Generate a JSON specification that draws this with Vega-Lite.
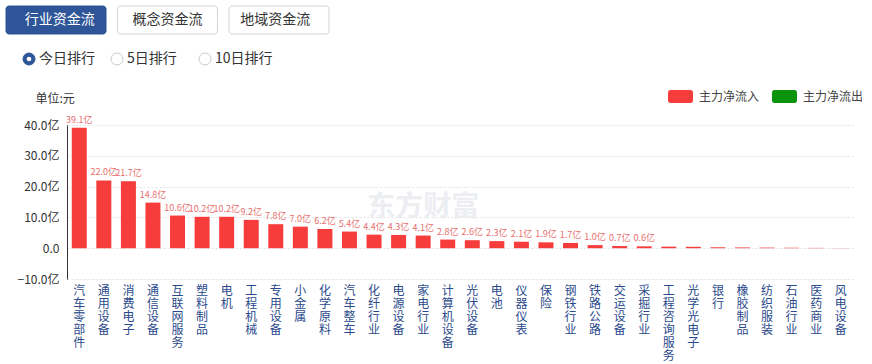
{
  "$schema": "https://vega.github.io/schema/vega-lite/v6.json",
  "background": "white",
  "padding": 5,
  "spacing": 11,
  "config": {"font": "Noto Sans CJK SC", "view": {"stroke": null}},
  "resolve": {"scale": {"color": "independent"}, "legend": {"color": "independent"}},
  "vconcat": [
    {
      "width": 323,
      "height": 67,
      "data": {"values": [
        {"row": "tab", "item": "行业资金流", "on": true},
        {"row": "tab", "item": "概念资金流", "on": false},
        {"row": "tab", "item": "地域资金流", "on": false},
        {"row": "radio", "item": "今日排行", "on": true},
        {"row": "radio", "item": "5日排行", "on": false},
        {"row": "radio", "item": "10日排行", "on": false}
      ]},
      "resolve": {"scale": {"x": "independent"}},
      "encoding": {
        "y": {"field": "row", "type": "nominal", "scale": {"domain": ["tab", "radio"], "paddingInner": 0.282, "paddingOuter": 0}, "axis": null}
      },
      "layer": [
        {
          "transform": [{"filter": "datum.row === 'tab'"}],
          "mark": {"type": "rect", "cornerRadius": 3, "strokeWidth": 1, "xOffset": -61},
          "encoding": {
            "x": {"field": "item", "type": "nominal", "sort": null, "scale": {"paddingInner": 0.103, "paddingOuter": 0}, "axis": null},
            "fill": {"condition": {"test": "datum.on", "value": "#2d5597"}, "value": "#ffffff"},
            "stroke": {"condition": {"test": "datum.on", "value": "#2d5597"}, "value": "#cfd4dc"}
          }
        },
        {
          "transform": [{"filter": "datum.row === 'tab'"}],
          "mark": {"type": "text", "fontSize": 14, "xOffset": -61},
          "encoding": {
            "x": {"field": "item", "type": "nominal", "sort": null, "scale": {"paddingInner": 0.103, "paddingOuter": 0}, "axis": null},
            "text": {"field": "item"},
            "color": {"condition": {"test": "datum.on", "value": "#ffffff"}, "value": "#333333"}
          }
        },
        {
          "transform": [{"filter": "datum.row === 'radio'"}],
          "mark": {"type": "point", "shape": "circle", "filled": true, "size": 144, "strokeWidth": 1, "xOffset": -38},
          "encoding": {
            "x": {"field": "item", "type": "nominal", "sort": null, "scale": {"type": "point", "padding": 0.835, "align": 0}, "axis": null},
            "fill": {"condition": {"test": "datum.on", "value": "#2d5597"}, "value": "#ffffff"},
            "stroke": {"condition": {"test": "datum.on", "value": "#2d5597"}, "value": "#cccccc"},
            "opacity": {"value": 1}
          }
        },
        {
          "transform": [{"filter": "datum.row === 'radio' && datum.on"}],
          "mark": {"type": "point", "shape": "circle", "filled": true, "size": 22, "xOffset": -38, "color": "#ffffff", "opacity": 1},
          "encoding": {
            "x": {"field": "item", "type": "nominal", "sort": null, "scale": {"type": "point", "padding": 0.835, "align": 0, "domain": ["今日排行", "5日排行", "10日排行"]}, "axis": null}
          }
        },
        {
          "transform": [{"filter": "datum.row === 'radio'"}],
          "mark": {"type": "text", "fontSize": 14, "align": "left", "xOffset": -28, "color": "#333333"},
          "encoding": {
            "x": {"field": "item", "type": "nominal", "sort": null, "scale": {"type": "point", "padding": 0.835, "align": 0}, "axis": null},
            "text": {"field": "item"}
          }
        }
      ]
    },
    {
      "width": 786,
      "height": 154,
      "data": {"values": [
        {"name": "汽车零部件", "v": 39.1, "type": "主力净流入", "label": "39.1亿"},
        {"name": "通用设备", "v": 22.0, "type": "主力净流入", "label": "22.0亿"},
        {"name": "消费电子", "v": 21.7, "type": "主力净流入", "label": "21.7亿"},
        {"name": "通信设备", "v": 14.8, "type": "主力净流入", "label": "14.8亿"},
        {"name": "互联网服务", "v": 10.6, "type": "主力净流入", "label": "10.6亿"},
        {"name": "塑料制品", "v": 10.2, "type": "主力净流入", "label": "10.2亿"},
        {"name": "电机", "v": 10.2, "type": "主力净流入", "label": "10.2亿"},
        {"name": "工程机械", "v": 9.2, "type": "主力净流入", "label": "9.2亿"},
        {"name": "专用设备", "v": 7.8, "type": "主力净流入", "label": "7.8亿"},
        {"name": "小金属", "v": 7.0, "type": "主力净流入", "label": "7.0亿"},
        {"name": "化学原料", "v": 6.2, "type": "主力净流入", "label": "6.2亿"},
        {"name": "汽车整车", "v": 5.4, "type": "主力净流入", "label": "5.4亿"},
        {"name": "化纤行业", "v": 4.4, "type": "主力净流入", "label": "4.4亿"},
        {"name": "电源设备", "v": 4.3, "type": "主力净流入", "label": "4.3亿"},
        {"name": "家电行业", "v": 4.1, "type": "主力净流入", "label": "4.1亿"},
        {"name": "计算机设备", "v": 2.8, "type": "主力净流入", "label": "2.8亿"},
        {"name": "光伏设备", "v": 2.6, "type": "主力净流入", "label": "2.6亿"},
        {"name": "电池", "v": 2.3, "type": "主力净流入", "label": "2.3亿"},
        {"name": "仪器仪表", "v": 2.1, "type": "主力净流入", "label": "2.1亿"},
        {"name": "保险", "v": 1.9, "type": "主力净流入", "label": "1.9亿"},
        {"name": "钢铁行业", "v": 1.7, "type": "主力净流入", "label": "1.7亿"},
        {"name": "铁路公路", "v": 1.0, "type": "主力净流入", "label": "1.0亿"},
        {"name": "交运设备", "v": 0.7, "type": "主力净流入", "label": "0.7亿"},
        {"name": "采掘行业", "v": 0.6, "type": "主力净流入", "label": "0.6亿"},
        {"name": "工程咨询服务", "v": 0.5, "type": "主力净流入"},
        {"name": "光学光电子", "v": 0.45, "type": "主力净流入"},
        {"name": "银行", "v": 0.3, "type": "主力净流入"},
        {"name": "橡胶制品", "v": 0.25, "type": "主力净流入"},
        {"name": "纺织服装", "v": 0.2, "type": "主力净流入"},
        {"name": "石油行业", "v": 0.15, "type": "主力净流入"},
        {"name": "医药商业", "v": 0.1, "type": "主力净流入"},
        {"name": "风电设备", "v": 0.05, "type": "主力净流入"}
      ]},
      "encoding": {
        "x": {
          "field": "name", "type": "nominal", "sort": null,
          "scale": {"domain": ["汽车零部件", "通用设备", "消费电子", "通信设备", "互联网服务", "塑料制品", "电机", "工程机械", "专用设备", "小金属", "化学原料", "汽车整车", "化纤行业", "电源设备", "家电行业", "计算机设备", "光伏设备", "电池", "仪器仪表", "保险", "钢铁行业", "铁路公路", "交运设备", "采掘行业", "工程咨询服务", "光学光电子", "银行", "橡胶制品", "纺织服装", "石油行业", "医药商业", "风电设备"], "paddingInner": 0.39, "paddingOuter": 0.195},
          "axis": {"title": null, "domain": false, "ticks": false, "labelAngle": 0, "labelExpr": "split(datum.label, '')", "labelLineHeight": 13, "labelFontSize": 12, "labelColor": "#2b4a8b", "labelBaseline": "top", "labelPadding": 6}
        },
        "y": {
          "field": "v", "type": "quantitative",
          "scale": {"domain": [-10, 40], "nice": false, "zero": false},
          "axis": {"values": [-10, 0, 10, 20, 30, 40], "labelExpr": "datum.value == 0 ? '0.0' : format(datum.value, '.1f') + '亿'", "labelOverlap": false, "minExtent": 61, "labelFontSize": 12, "labelColor": "#333333", "labelPadding": 8, "ticks": false, "domain": true, "domainColor": "#333333", "gridDash": [2, 2], "gridColor": "#e3e3e3", "title": "单位:元", "titleAngle": 0, "titleX": -32, "titleY": -27, "titleAlign": "left", "titleBaseline": "middle", "titleFontSize": 12, "titleFontWeight": "normal", "titleColor": "#333333"}
        }
      },
      "layer": [
        {
          "data": {"values": [{"wm": "东方财富", "cx": "家电行业", "cy": 13}]},
          "mark": {"type": "text", "fontSize": 28, "fontWeight": "bold", "baseline": "middle", "align": "center", "fill": "#eceef2", "color": "#eceef2", "opacity": 1},
          "encoding": {"x": {"field": "cx", "type": "nominal"}, "y": {"field": "cy", "type": "quantitative"}, "text": {"field": "wm", "type": "nominal"}, "color": {"value": "#eceef2"}}
        },
        {
          "mark": {"type": "bar"},
          "encoding": {
            "color": {
              "field": "type", "type": "nominal",
              "scale": {"domain": ["主力净流入", "主力净流出"], "range": ["#f73c3c", "#0b930b"]},
              "legend": {"orient": "none", "legendX": 601, "legendY": -41, "padding": 0, "direction": "horizontal", "columns": 2, "title": null, "symbolType": "M-0.8,-0.52 H0.8 A0.2,0.2 0 0 1 1,-0.32 V0.32 A0.2,0.2 0 0 1 0.8,0.52 H-0.8 A0.2,0.2 0 0 1 -1,0.32 V-0.32 A0.2,0.2 0 0 1 -0.8,-0.52 Z", "symbolSize": 625, "symbolStrokeWidth": 0, "symbolOpacity": 1, "labelFontSize": 12, "labelColor": "#444444", "columnPadding": 12, "labelOffset": 6}
            }
          }
        },
        {
          "mark": {"type": "rule", "color": "#333333", "strokeWidth": 1},
          "encoding": {"y": {"datum": 0, "type": "quantitative"}}
        },
        {
          "transform": [{"filter": "isValid(datum.label)"}],
          "mark": {"type": "text", "baseline": "bottom", "dy": -3, "fontSize": 9, "color": "#e96e6e"},
          "encoding": {"text": {"field": "label"}}
        }
      ]
    }
  ]
}
